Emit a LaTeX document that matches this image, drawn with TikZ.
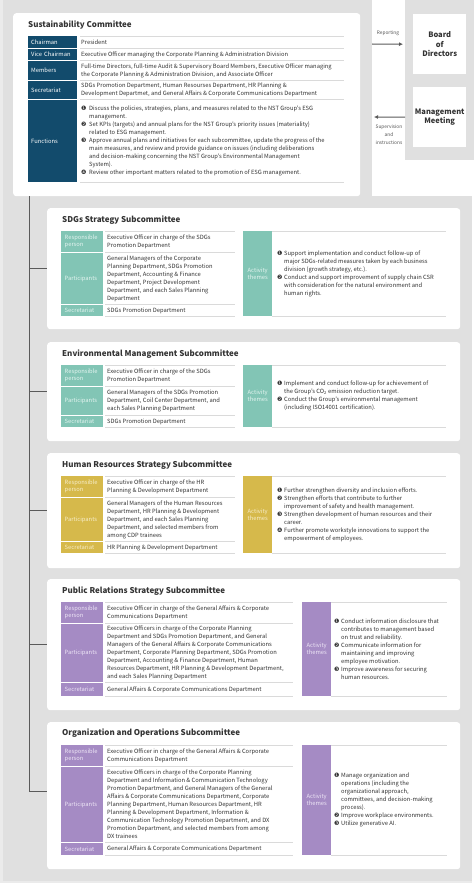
\documentclass[tikz,border=0pt]{standalone}
\usepackage{fontspec}
\setmainfont{Noto Sans CJK JP}
\newfontfamily\dvf{DejaVu Sans}
\usetikzlibrary{arrows.meta}
\definecolor{bgg}{HTML}{E0E0E0}
\definecolor{edgeg}{HTML}{EBEBEB}
\definecolor{txtc}{HTML}{333333}
\definecolor{sepc}{HTML}{DADADA}
\definecolor{treec}{HTML}{5A5A5A}
\definecolor{cdark}{HTML}{124B6C}
\definecolor{tealc}{HTML}{82C5B5}
\definecolor{tealt}{HTML}{E4F4F0}
\definecolor{goldc}{HTML}{D6B94B}
\definecolor{goldt}{HTML}{F7EDC9}
\definecolor{purpc}{HTML}{A58BC4}
\definecolor{purpt}{HTML}{EEE6F6}
\definecolor{grtxt}{HTML}{555555}
\newcommand\cnum[2]{\makebox[#1][l]{\dvf\fontsize{6}{6}\selectfont #2}}
\newcommand\cnI{\cnum{7pt}{❶}}
\newcommand\cnII{\cnum{7pt}{❷}}
\newcommand\cnIII{\cnum{7pt}{❸}}
\newcommand\cnIV{\cnum{7pt}{❹}}
\newcommand\indt{\hspace*{7pt}}
\newcommand\findt{\hspace*{8pt}}
\tikzset{
  card/.style={fill=white, rounded corners=3pt, inner sep=0, anchor=north west, draw=none},
  ttl/.style={anchor=west, inner sep=0, font=\bfseries\fontsize{8}{9.6}\selectfont, text=txtc},
  txt/.style={anchor=west, inner sep=0, align=left, font=\fontsize{5.8}{8}\selectfont, text=txtc},
  lab/.style={anchor=north west, inner ysep=0, align=left, font=\fontsize{5.8}{7}\selectfont},
  clab/.style={lab, fill=cdark, text=white, inner xsep=3pt, text width=43pt},
  tlab/.style={lab, fill=#1, inner xsep=3.5pt, text width=35pt},
  act/.style={anchor=north west, inner sep=0, align=center, text width=29pt, font=\fontsize{5.8}{7}\selectfont},
  sepl/.style={draw=sepc, line width=0.6pt},
  tree/.style={draw=treec, line width=1pt},
  arr/.style={draw=treec, line width=1pt, -{Latex[length=4pt,width=4pt]}},
  small/.style={inner sep=0, align=center, font=\fontsize{4.8}{8}\selectfont, text=grtxt},
  bx/.style={fill=white, draw=none, anchor=north west, inner sep=0, minimum width=53pt, minimum height=60pt, align=center, font=\bfseries\fontsize{7.5}{9.5}\selectfont, text=txtc}
}
\begin{document}
\begin{tikzpicture}[x=1pt,y=-1pt]
\useasboundingbox (0,0) rectangle (474,883);
\fill[white] (0,0) rectangle (474,883);
\fill[bgg] (0,0) rectangle (372,200);
\fill[bgg] (405,0) rectangle (474,160);
\fill[bgg] (3,196) rectangle (472,881);
\fill[edgeg] (0,0) rectangle (3,881);
\fill[edgeg] (0,881) rectangle (472,883);

% ---------------- Sustainability Committee ----------------
\node[card, minimum width=347pt, minimum height=183pt] (comm) at (13,13) {};
\node[ttl] (commt) at (28,25) {Sustainability Committee};
\node[clab, minimum height=12pt] (cl1) at (28,36) {Chairman};
\node[clab, minimum height=11pt] (cl2) at (28,49) {Vice Chairman};
\node[clab, minimum height=19pt] (cl3) at (28,61) {Members};
\node[clab, minimum height=18pt] (cl4) at (28,81) {Secretariat};
\node[clab, minimum height=82pt] (cl5) at (28,100) {Functions};
\foreach \yy in {36,48.5,60.5,80.5,99.5,182} \draw[sepl] (80,\yy) -- (344,\yy);
\node[txt] (cv1) at (81,42.5) {President};
\node[txt] (cv2) at (81,54.5) {Executive Officer managing the Corporate Planning \& Administration Division};
\node[txt] (cv3) at (81,70.5) {Full-time Directors, full-time Audit \& Supervisory Board Members, Executive Officer managing\\the Corporate Planning \& Administration Division, and Associate Officer};
\node[txt] (cv4) at (81,90) {SDGs Promotion Department, Human Resourses Department, HR Planning \&\\Development Departmet, and General Affairs \& Corporate Communications Department};
\node[txt] (cv5) at (81,141) {\cnum{8pt}{❶}Discuss the policies, strategies, plans, and measures related to the NST Group’s ESG\\\findt management.\\\cnum{8pt}{❷}Set KPIs (targets) and annual plans for the NST Group’s priority issues (materiality)\\\findt related to ESG management.\\\cnum{8pt}{❸}Approve annual plans and initiatives for each subcommittee, update the progress of the\\\findt main measures, and review and provide guidance on issues (including deliberations\\\findt and decision-making concerning the NST Group’s Environmental Management\\\findt System).\\\cnum{8pt}{❹}Review other important matters related to the promotion of ESG management.};

% ---------------- Board / Management ----------------
\node[bx] (board) at (413,14) {Board\\of\\Directors};
\node[bx] (mgmt) at (413,87) {Management\\Meeting};
\node[small] (rep) at (388,33) {Reporting};
\node[small] (sup) at (389,135) {Supervision\\and\\instructions};
\coordinate (repS) at (372,44);
\coordinate (supE) at (374,117);
\draw[arr, shorten >=10pt] (repS) -- (board.west);
\draw[arr, shorten <=8pt] (mgmt.west) -- (supE);

% ---------------- SDGs Strategy ----------------
\node[card, minimum width=413pt, minimum height=121pt] (sdg) at (47,208) {};
\node[ttl] (sdgt) at (62,220) {SDGs Strategy Subcommittee};
\node[tlab=tealc, text=tealt, minimum height=21pt] (s1) at (61,231) {Responsible\\person};
\node[tlab=tealc, text=tealt, minimum height=51pt] (s2) at (61,253) {Participants};
\node[tlab=tealc, text=tealt, minimum height=11pt] (s3) at (61,305) {Secretariat};
\foreach \yy in {231,252.5,304.5,316} \draw[sepl] (105,\yy) -- (235,\yy);
\node[txt] (sv1) at (107,241.5) {Executive Officer in charge of the SDGs\\Promotion Department};
\node[txt] (sv2) at (107,278.5) {General Managers of the Corporate\\Planning Department, SDGs Promotion\\Department, Accounting \& Finance\\Department, Project Development\\Department, and each Sales Planning\\Department};
\node[txt] (sv3) at (107,310.5) {SDGs Promotion Department};
\node[act, fill=tealc, text=tealt, minimum height=85pt] (sa) at (243,231) {Activity\\themes};
\draw[sepl] (272,231) -- (446,231);
\draw[sepl] (272,316) -- (446,316);
\node[txt] (sat) at (277,273.5) {\cnI Support implementation and conduct follow-up of\\\indt major SDGs-related measures taken by each business\\\indt division (growth strategy, etc.).\\\cnII Conduct and support improvement of supply chain CSR\\\indt with consideration for the natural environment and\\\indt human rights.};

% ---------------- Environmental Management ----------------
\node[card, minimum width=413pt, minimum height=99pt] (env) at (47,342) {};
\node[ttl] (envt) at (62,354) {Environmental Management Subcommittee};
\node[tlab=tealc, text=tealt, minimum height=21pt] (e1) at (61,365) {Responsible\\person};
\node[tlab=tealc, text=tealt, minimum height=28pt] (e2) at (61,387) {Participants};
\node[tlab=tealc, text=tealt, minimum height=11pt] (e3) at (61,416) {Secretariat};
\foreach \yy in {365,386.5,415.5,427} \draw[sepl] (105,\yy) -- (235,\yy);
\node[txt] (ev1) at (107,375.5) {Executive Officer in charge of the SDGs\\Promotion Department};
\node[txt] (ev2) at (107,401) {General Managers of the SDGs Promotion\\Department, Coil Center Department, and\\each Sales Planning Department};
\node[txt] (ev3) at (107,421.5) {SDGs Promotion Department};
\node[act, fill=tealc, text=tealt, minimum height=62pt] (ea) at (243,365) {Activity\\themes};
\draw[sepl] (272,365) -- (446,365);
\draw[sepl] (272,427) -- (446,427);
\node[txt] (eat) at (277,396) {\cnI Implement and conduct follow-up for achievement of\\\indt the Group’s CO\textsubscript{2} emission reduction target.\\\cnII Conduct the Group’s environmental management\\\indt (including ISO14001 certification).};

% ---------------- Human Resources Strategy ----------------
\node[card, minimum width=413pt, minimum height=115pt] (hr) at (47,453) {};
\node[ttl] (hrt) at (62,465) {Human Resources Strategy Subcommittee};
\node[tlab=goldc, text=goldt, minimum height=21pt] (h1) at (61,476) {Responsible\\person};
\node[tlab=goldc, text=goldt, minimum height=43pt] (h2) at (61,498) {Participants};
\node[tlab=goldc, text=goldt, minimum height=11pt] (h3) at (61,542) {Secretariat};
\foreach \yy in {476,497.5,541.5,553} \draw[sepl] (105,\yy) -- (235,\yy);
\node[txt] (hv1) at (107,486.5) {Executive Officer in charge of the HR\\Planning \& Development Department};
\node[txt] (hv2) at (107,519.5) {General Managers of the Human Resources\\Department, HR Planning \& Development\\Department, and each Sales Planning\\Department, and selected members from\\among CDP trainees};
\node[txt] (hv3) at (107,547.5) {HR Planning \& Development Department};
\node[act, fill=goldc, text=goldt, minimum height=77pt] (ha) at (243,476) {Activity\\themes};
\draw[sepl] (272,476) -- (446,476);
\draw[sepl] (272,553) -- (446,553);
\node[txt] (hat) at (277,514.5) {\cnI Further strengthen diversity and inclusion efforts.\\\cnII Strengthen efforts that contribute to further\\\indt improvement of safety and health management.\\\cnIII Strengthen development of human resources and their\\\indt career.\\\cnIV Further promote workstyle innovations to support the\\\indt empowerment of employees.};

% ---------------- Public Relations Strategy ----------------
\node[card, minimum width=413pt, minimum height=131pt] (pr) at (47,579) {};
\node[ttl] (prt) at (62,591) {Public Relations Strategy Subcommittee};
\node[tlab=purpc, text=purpt, minimum height=21pt] (p1) at (61,602) {Responsible\\person};
\node[tlab=purpc, text=purpt, minimum height=58pt] (p2) at (61,624) {Participants};
\node[tlab=purpc, text=purpt, minimum height=13pt] (p3) at (61,683) {Secretariat};
\foreach \yy in {602,623.5,682.5,696} \draw[sepl] (105,\yy) -- (293,\yy);
\node[txt] (pv1) at (107,612.5) {Executive Officer in charge of the General Affairs \& Corporate\\Communications Department};
\node[txt] (pv2) at (107,653) {Executive Officers in charge of the Corporate Planning\\Department and SDGs Promotion Department, and General\\Managers of the General Affairs \& Corporate Communications\\Department, Corporate Planning Department, SDGs Promotion\\Department, Accounting \& Finance Department, Human\\Resources Department, HR Planning \& Development Department,\\and each Sales Planning Department};
\node[txt] (pv3) at (107,689.5) {General Affairs \& Corporate Communications Department};
\node[act, fill=purpc, text=purpt, minimum height=94pt] (pa) at (302,602) {Activity\\themes};
\draw[sepl] (331,602) -- (447,602);
\draw[sepl] (331,696) -- (447,696);
\node[txt] (pat) at (334,649) {\cnI Conduct information disclosure that\\\indt contributes to management based\\\indt on trust and reliability.\\\cnII Communicate information for\\\indt maintaining and improving\\\indt employee motivation.\\\cnIII Improve awareness for securing\\\indt human resources.};

% ---------------- Organization and Operations ----------------
\node[card, minimum width=413pt, minimum height=147pt] (org) at (47,722) {};
\node[ttl] (orgt) at (62,733) {Organization and Operations Subcommittee};
\node[tlab=purpc, text=purpt, minimum height=21pt] (o1) at (61,745) {Responsible\\person};
\node[tlab=purpc, text=purpt, minimum height=75pt] (o2) at (61,767) {Participants};
\node[tlab=purpc, text=purpt, minimum height=12pt] (o3) at (61,843) {Secretariat};
\foreach \yy in {745,766.5,842.5,855} \draw[sepl] (105,\yy) -- (293,\yy);
\node[txt] (ov1) at (107,755.5) {Executive Officer in charge of the General Affairs \& Corporate\\Communications Department};
\node[txt] (ov2) at (107,804.5) {Executive Officers in charge of the Corporate Planning\\Department and Information \& Communication Technology\\Promotion Department, and General Managers of the General\\Affairs \& Corporate Communications Department, Corporate\\Planning Department, Human Resources Department, HR\\Planning \& Development Department, Information \&\\Communication Technology Promotion Department, and DX\\Promotion Department, and selected members from among\\DX trainees};
\node[txt] (ov3) at (107,849) {General Affairs \& Corporate Communications Department};
\node[act, fill=purpc, text=purpt, minimum height=110pt] (oa) at (302,745) {Activity\\themes};
\draw[sepl] (331,745) -- (447,745);
\draw[sepl] (331,855) -- (447,855);
\node[txt] (oat) at (334,800) {\cnI Manage organization and\\\indt operations (including the\\\indt organizational approach,\\\indt committees, and decision-making\\\indt process).\\\cnII Improve workplace environments.\\\cnIII Utilize generative AI.};

% ---------------- Tree connectors ----------------
\coordinate (trunk) at ([xshift=16pt]comm.south west);
\draw[tree] (trunk) |- ([yshift=4pt]org.west);
\draw[tree] (trunk |- sdg.west) -- (sdg.west);
\draw[tree] (trunk |- env.west) -- (env.west);
\draw[tree] (trunk |- hr.west) -- (hr.west);
\draw[tree] (trunk |- pr.west) -- (pr.west);
\end{tikzpicture}
\end{document}
